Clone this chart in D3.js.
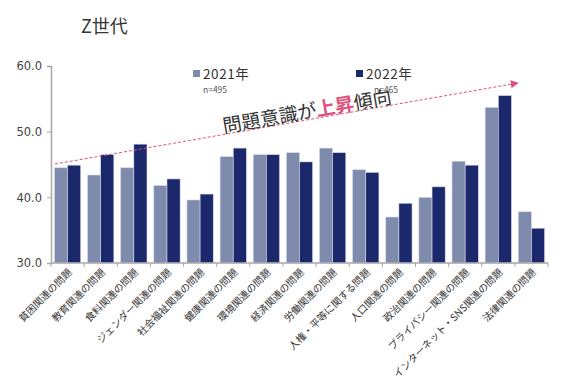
<!DOCTYPE html>
<html>
<head>
<meta charset="utf-8">
<script src="https://cdn.jsdelivr.net/npm/d3@7"></script>
<style>
  body { margin: 0; background: #fff; }
  text { font-family: "Noto Sans CJK JP", "Noto Sans", sans-serif; }
</style>
</head>
<body>
<div id="chart"></div>
<script>
'use strict';

// data
var categories = ['貧困関連の問題', '教育関連の問題', '食料関連の問題', 'ジェンダー関連の問題',
  '社会福祉関連の問題', '健康関連の問題', '環境関連の問題', '経済関連の問題', '労働関連の問題',
  '人権・平等に関する問題', '人口関連の問題', '政治関連の問題', 'プライバシー関連の問題',
  'インターネット・SNS関連の問題', '法律関連の問題'];
var values2021 = [44.5, 43.4, 44.5, 41.8, 39.6, 46.2, 46.5, 46.8, 47.5, 44.2, 37.0, 40.0, 45.5, 53.7, 37.8];
var values2022 = [44.9, 46.5, 48.1, 42.8, 40.5, 47.5, 46.5, 45.4, 46.8, 43.8, 39.1, 41.6, 44.9, 55.5, 35.3];
var seriesNames = ['2021年', '2022年'];
var seriesN = ['n=495', 'n=465'];
var yTicks = [30, 40, 50, 60];

var chart = {};
chart.w = 583;
chart.h = 384;
chart.colors = ['#7f8bad', '#1b286b'];
chart.pink = '#e0507c';

var svg = d3.select('#chart').append('svg')
  .attr('width', chart.w)
  .attr('height', chart.h);

var x0 = d3.scaleBand().domain(categories).range([51, 548]).padding(0);
var x1 = d3.scaleBand().domain(seriesNames).range([0, x0.bandwidth()]).paddingInner(0).paddingOuter(0.26);
var y = d3.scaleLinear().domain([30, 60]).range([263, 66]);

// title
svg.append('text')
  .attr('x', 81).attr('y', 33)
  .attr('font-size', 18)
  .attr('fill', '#333')
  .text('Z世代');

// bars
var groups = svg.selectAll('.cat')
  .data(categories.map(function (c, i) { return {cat: c, vals: [values2021[i], values2022[i]]}; }))
  .enter().append('g')
  .attr('class', 'cat')
  .attr('transform', function (d) { return 'translate(' + x0(d.cat) + ',0)'; });

groups.selectAll('rect')
  .data(function (d) { return d.vals.map(function (v, j) { return {s: seriesNames[j], v: v, j: j}; }); })
  .enter().append('rect')
  .attr('x', function (d) { return x1(d.s); })
  .attr('y', function (d) { return y(d.v); })
  .attr('width', x1.bandwidth())
  .attr('height', function (d) { return y(30) - y(d.v); })
  .attr('fill', function (d) { return chart.colors[d.j]; })
  .attr('stroke', '#d4d9e8')
  .attr('stroke-width', 0.6);

// y axis
var yAxis = d3.axisLeft(y).tickValues(yTicks).tickFormat(d3.format('.1f')).tickSize(4).tickPadding(5);
var yg = svg.append('g').attr('transform', 'translate(51,0)').call(yAxis);
yg.select('.domain').attr('stroke', '#a8a8a8').attr('stroke-width', 1.5);
yg.selectAll('.tick line').attr('stroke', '#a8a8a8');
yg.selectAll('.tick text')
  .attr('fill', '#444')
  .style('font-family', '"DejaVu Sans", sans-serif')
  .attr('font-size', 11.5);

// x axis
var xg = svg.append('g');
xg.append('line')
  .attr('x1', 51).attr('x2', 548)
  .attr('y1', 263).attr('y2', 263)
  .attr('stroke', '#a8a8a8').attr('stroke-width', 1.5);
var bounds = categories.map(function (c) { return x0(c); }).concat([x0.range()[1]]);
xg.selectAll('.xtick')
  .data(bounds)
  .enter().append('line')
  .attr('x1', function (d) { return d; }).attr('x2', function (d) { return d; })
  .attr('y1', 263).attr('y2', 267)
  .attr('stroke', '#a8a8a8');

xg.selectAll('.xlabel')
  .data(categories)
  .enter().append('text')
  .attr('transform', function (d) {
    return 'translate(' + (x0(d) + x0.bandwidth() / 2 + 5) + ',273) rotate(-45)';
  })
  .attr('text-anchor', 'end')
  .attr('font-size', 10)
  .attr('fill', '#333')
  .text(function (d) { return d; });

// legend
var legendX = [193, 356];
var legend = svg.selectAll('.legend')
  .data(seriesNames)
  .enter().append('g')
  .attr('transform', function (d, i) { return 'translate(' + legendX[i] + ',0)'; });
legend.append('rect')
  .attr('x', 0).attr('y', 70)
  .attr('width', 7).attr('height', 7)
  .attr('fill', function (d, i) { return chart.colors[i]; });
legend.append('text')
  .attr('x', 10).attr('y', 79)
  .attr('font-size', 13.5)
  .attr('letter-spacing', 0.6)
  .attr('fill', '#333')
  .text(function (d) { return d; });
legend.append('text')
  .attr('x', function (d, i) { return i === 0 ? 10 : 18; })
  .attr('y', 93)
  .attr('font-size', 8.5)
  .attr('fill', '#555')
  .text(function (d, i) { return seriesN[i]; });

// trend arrow
var defs = svg.append('defs');
defs.append('marker')
  .attr('id', 'arrow')
  .attr('viewBox', '0 0 10 10')
  .attr('refX', 9).attr('refY', 5)
  .attr('markerWidth', 8).attr('markerHeight', 8)
  .attr('markerUnits', 'userSpaceOnUse')
  .attr('orient', 'auto')
  .append('path')
  .attr('d', 'M0,0 L10,5 L0,10 Z')
  .attr('fill', chart.pink);

svg.append('line')
  .attr('x1', 55).attr('y1', 164)
  .attr('x2', 518).attr('y2', 83)
  .attr('stroke', chart.pink)
  .attr('stroke-width', 1)
  .attr('stroke-dasharray', '3,2')
  .attr('marker-end', 'url(#arrow)');

var trend = svg.append('text')
  .attr('transform', 'translate(224,133) rotate(-10)')
  .attr('font-size', 19)
  .attr('fill', '#333');
trend.append('tspan').text('問題意識が');
trend.append('tspan').attr('fill', chart.pink).attr('font-weight', 'bold').text('上昇');
trend.append('tspan').text('傾向');
</script>
</body>
</html>
